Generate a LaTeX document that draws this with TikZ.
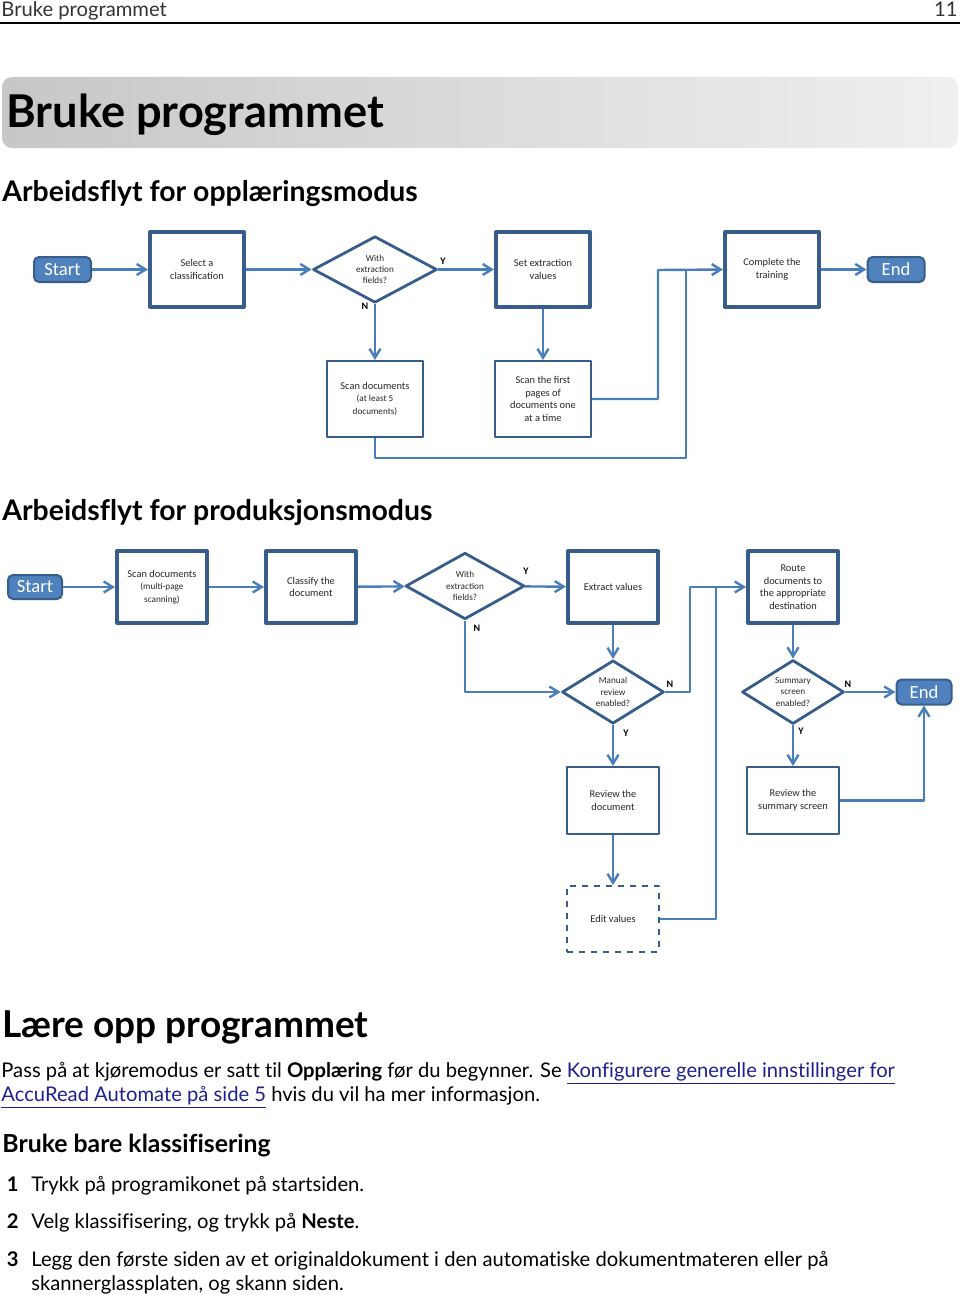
\documentclass[tikz,border=0pt]{standalone}
\usepackage{fontspec}
\setmainfont{Lato}[Ligatures=NoCommon]
\newfontfamily\boxfont{Carlito}
\usetikzlibrary{shapes.geometric,arrows.meta}
\definecolor{lineblue}{HTML}{4A7EBB}
\definecolor{boxblue}{HTML}{385D8A}
\definecolor{fillblue}{HTML}{4F81BD}
\definecolor{linkblue}{HTML}{1F1F8F}
\begin{document}
\begin{tikzpicture}[x=.5pt,y=-.5pt,line join=round,
	every node/.style={inner sep=0pt},
	boxtxt/.style={font=\boxfont\fontsize{5.2}{6.3}\selectfont,align=center,text=black!85},
	proc/.style={boxtxt,draw=boxblue,line width=2pt,minimum width=47pt,minimum height=37.5pt},
	procb/.style={proc,minimum width=45pt,minimum height=36pt},
	thin/.style={boxtxt,draw=boxblue,line width=1.2pt,minimum width=47.8pt,minimum height=37.8pt},
	thinb/.style={thin,minimum width=45.8pt,minimum height=33.3pt},
	term/.style={draw=boxblue,line width=1pt,fill=fillblue,rounded corners=2.5pt,text=white,
		font=\boxfont\fontsize{9.3}{10}\selectfont,minimum width=28.5pt,minimum height=12.5pt},
	dec/.style={boxtxt,font=\boxfont\fontsize{4.6}{5.6}\selectfont,diamond,draw=boxblue,line width=1.4pt,
		minimum width=62pt,minimum height=29pt},
	yn/.style={font=\boxfont\bfseries\fontsize{5}{5}\selectfont},
	flow/.style={draw=lineblue,line width=1.2pt,-{Straight Barb[length=4.5pt,width=5.5pt]}},
	link/.style={draw=lineblue,line width=1.2pt},
	body/.style={anchor=base west,font=\fontsize{10.1}{10.1}\selectfont}]
	\useasboundingbox (0,0) rectangle (960,1295);
	% topptekst
	\node[anchor=base west,font=\fontsize{10.1}{10.1}\selectfont,text=black!80] (hdr) at (1,17) {Bruke programmet};
	\node[anchor=base east,font=\fontsize{10.1}{10.1}\selectfont,text=black!80] (pg) at (958,17) {11};
	\draw[line width=1.1pt] (0,23)--(960,23);
	\shade[rounded corners=5pt,left color=black!22,middle color=black!9,right color=black!6] (2,77) rectangle (958,148);
	\node[anchor=base west,font=\bfseries\fontsize{22.6}{22.6}\selectfont] (tit) at (6,127) {Bruke programmet};
	\node[anchor=base west,font=\bfseries\fontsize{14.2}{14.2}\selectfont] (h1) at (2,201) {Arbeidsflyt for opplæringsmodus};
	% opplæring
	\node[term] (start1) at (62.5,269.5) {Start};
	\node[proc] (sel) at (197,269.5) {Select a\\classification};
	\node[dec] (diam1) at (375,269.5) {With\\extraction\\fields?};
	\node[proc] (setv) at (543,269.5) {Set extraction\\values};
	\node[proc] (compl) at (772,269.5) {Complete the\\training};
	\node[term] (end1) at (896,269.5) {End};
	\node[thin] (scan5) at (375,399) {Scan documents\\{\fontsize{4.6}{5.8}\selectfont(at least 5}\\{\fontsize{4.6}{5.8}\selectfont documents)}};
	\node[thin] (first) at (543,399) {Scan the first\\pages of\\documents one\\at a time};
	\node[yn] (y1) at (443,261) {Y};
	\node[yn] (n1) at (365,306) {N};
	\coordinate (j1) at (658,270);
	\coordinate (j2) at (686,458);
	\draw[flow] (start1)--(sel);
	\draw[flow] (sel)--(diam1);
	\draw[flow] (diam1)--(setv);
	\draw[flow] (diam1.south)--(scan5.north);
	\draw[flow] (setv)--(first);
	\draw[flow] (first.east)-|(j1)--(compl.west);
	\draw[link] (scan5.south)|-(j2)--(j2|-compl.west);
	\draw[flow] (compl)--(end1);
	% produksjon
	\node[anchor=base west,font=\bfseries\fontsize{14.2}{14.2}\selectfont] (h2) at (2,520) {Arbeidsflyt for produksjonsmodus};
	\node[term,minimum width=27pt,minimum height=12pt] (start2) at (35,587) {Start};
	\node[procb] (scanm) at (162,587) {Scan documents\\{\fontsize{4.6}{5.8}\selectfont(multi-page}\\{\fontsize{4.6}{5.8}\selectfont scanning)}};
	\node[procb] (classify) at (311,587) {Classify the\\document};
	\node[dec,minimum width=59.5pt] (diam2) at (465,586) {With\\extraction\\fields?};
	\node[procb] (extract) at (613,587) {Extract values};
	\node[procb] (route) at (793,587) {Route\\documents to\\the appropriate\\destination};
	\node[dec,minimum width=51pt] (manual) at (613,692) {Manual\\review\\enabled?};
	\node[dec,minimum width=51pt] (summ) at (793,692) {Summary\\screen\\enabled?};
	\node[term,minimum width=27.5pt] (end2) at (924,692) {End};
	\node[thinb] (revdoc) at (613,800.5) {Review the\\document};
	\node[thinb] (revsum) at (793,800.5) {Review the\\summary screen};
	\node[thinb,dashed,minimum height=32.8pt] (edit) at (613,919) {Edit values};
	\node[yn] (y2) at (526,571) {Y};
	\node[yn] (n2) at (477,628) {N};
	\node[yn] (n3) at (670,684) {N};
	\node[yn] (y3) at (626,733) {Y};
	\node[yn] (n4) at (848,684) {N};
	\node[yn] (y4) at (801,731) {Y};
	\coordinate (j3) at (690,587);
	\coordinate (j4) at (716,587);
	\draw[flow] (start2)--(scanm);
	\draw[flow] (scanm)--(classify);
	\draw[flow] (classify)--(diam2);
	\draw[flow] (diam2)--(extract);
	\draw[flow] (diam2.south)|-(manual.west);
	\draw[flow] (extract)--(manual);
	\draw[flow] (manual.east)-|(j3)--(route.west);
	\draw[link] (edit.east)-|(j4);
	\draw[flow] (manual)--(revdoc);
	\draw[flow] (revdoc)--(edit);
	\draw[flow] (route)--(summ);
	\draw[flow] (summ)--(end2);
	\draw[flow] (summ)--(revsum);
	\draw[flow] (revsum.east)-|(end2.south);
	% tekst
	\node[anchor=base west,font=\bfseries\fontsize{18.5}{18.5}\selectfont] (h3) at (2,1037) {Lære opp programmet};
	\node[body] (p1) at (1,1077) {Pass på at kjøremodus er satt til \textbf{Opplæring} før du begynner. Se \textcolor{linkblue}{\underline{Konfigurere generelle innstillinger for}}};
	\node[body] (p2) at (1,1101) {\textcolor{linkblue}{\underline{AccuRead Automate på side 5}} hvis du vil ha mer informasjon.};
	\node[anchor=base west,font=\bfseries\fontsize{12.4}{12.4}\selectfont] (h4) at (2,1152) {Bruke bare klassifisering};
	\foreach \nr/\yy/\txt in {1/1191/{Trykk på programikonet på startsiden.},
		2/1228/{Velg klassifisering, og trykk på \textbf{Neste}.},
		3/1266/{Legg den første siden av et originaldokument i den automatiske dokumentmateren eller på}}{
		\node[anchor=base east,font=\bfseries\fontsize{10.1}{10.1}\selectfont] (nr\nr) at (19,\yy) {\nr};
		\node[body] (it\nr) at (31,\yy) {\txt};
	}
	\node[body] (it4) at (31,1290) {skannerglassplaten, og skann siden.};
\end{tikzpicture}
\end{document}
